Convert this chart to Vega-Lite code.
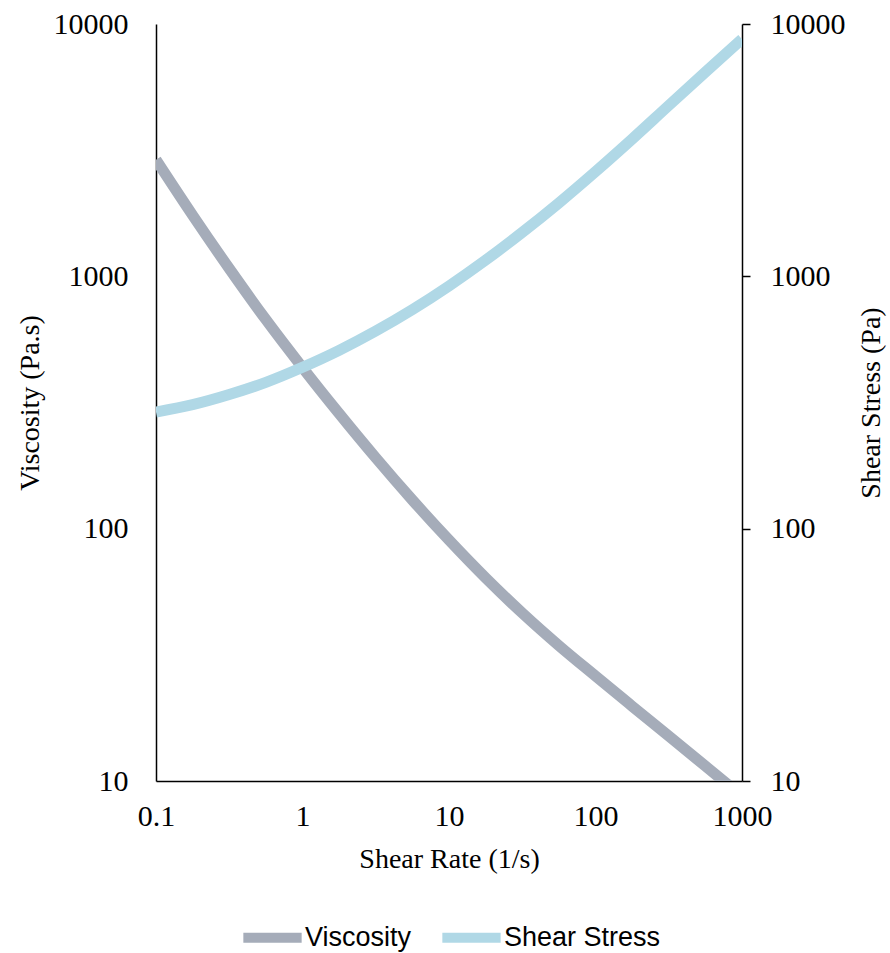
{
  "$schema": "https://vega.github.io/schema/vega-lite/v6.json",
  "width": 586,
  "height": 757,
  "autosize": {"type": "none"},
  "padding": {"left": 156, "top": 24, "right": 148, "bottom": 172},
  "background": "white",
  "config": {
    "view": {"stroke": null},
    "font": "Liberation Serif",
    "axis": {
      "grid": false,
      "domainColor": "#000000",
      "domainWidth": 1.5,
      "tickColor": "#000000",
      "tickWidth": 1.5,
      "labelFont": "Liberation Serif",
      "labelFontSize": 30,
      "labelColor": "#000000",
      "titleFont": "Liberation Serif",
      "titleFontSize": 28,
      "titleFontWeight": "normal",
      "titleColor": "#000000"
    }
  },
  "data": {
    "values": [
      {"rate": 0.1, "viscosity": 2897, "stress": 290},
      {"rate": 0.1778, "viscosity": 1746, "stress": 310},
      {"rate": 0.3162, "viscosity": 1074, "stress": 340},
      {"rate": 0.5623, "viscosity": 674, "stress": 380},
      {"rate": 1, "viscosity": 435, "stress": 436},
      {"rate": 1.778, "viscosity": 286, "stress": 509},
      {"rate": 3.162, "viscosity": 191, "stress": 607},
      {"rate": 5.623, "viscosity": 129.9, "stress": 738},
      {"rate": 10, "viscosity": 90.1, "stress": 916},
      {"rate": 17.78, "viscosity": 63.8, "stress": 1159},
      {"rate": 31.62, "viscosity": 46.3, "stress": 1493},
      {"rate": 56.23, "viscosity": 34.4, "stress": 1954},
      {"rate": 100, "viscosity": 26.05, "stress": 2600},
      {"rate": 177.8, "viscosity": 19.8, "stress": 3499},
      {"rate": 316.2, "viscosity": 15.07, "stress": 4753},
      {"rate": 562.3, "viscosity": 11.46, "stress": 6442},
      {"rate": 1000, "viscosity": 8.71, "stress": 8710}
    ]
  },
  "encoding": {
    "x": {
      "field": "rate",
      "type": "quantitative",
      "scale": {"type": "log", "domain": [0.1, 1000]},
      "axis": {
        "title": "Shear Rate (1/s)",
        "values": [0.1, 1, 10, 100, 1000],
        "format": "~r",
        "ticks": false,
        "tickSize": 0,
        "labelPadding": 20,
        "titlePadding": 14,
        "labelFlush": false
      }
    }
  },
  "layer": [
    {
      "mark": {"type": "line", "strokeWidth": 11, "clip": true, "interpolate": "monotone"},
      "encoding": {
        "y": {
          "field": "viscosity",
          "type": "quantitative",
          "scale": {"type": "log", "domain": [10, 10000]},
          "axis": {
            "title": "Viscosity (Pa.s)",
            "orient": "left",
            "values": [10, 100, 1000, 10000],
            "format": "~r",
            "ticks": false,
            "tickSize": 0,
            "labelPadding": 28,
            "titlePadding": 9,
            "labelFlush": false
          }
        },
        "color": {
          "datum": "Viscosity",
          "type": "nominal",
          "scale": {"domain": ["Viscosity", "Shear Stress"], "range": ["#a5acb9", "#b0d8e6"]},
          "legend": {
            "title": null,
            "orient": "none",
            "direction": "horizontal",
            "legendX": 82,
            "legendY": 879,
            "symbolType": "stroke",
            "symbolSize": 3400,
            "symbolStrokeWidth": 10,
            "labelFont": "Liberation Sans",
            "labelFontSize": 27,
            "labelColor": "#000000",
            "labelOffset": -2,
            "columnPadding": 10
          }
        }
      }
    },
    {
      "mark": {"type": "line", "strokeWidth": 11, "clip": true, "interpolate": "monotone"},
      "encoding": {
        "y": {
          "field": "stress",
          "type": "quantitative",
          "scale": {"type": "log", "domain": [10, 10000]},
          "axis": {
            "title": "Shear Stress (Pa)",
            "orient": "right",
            "values": [10, 100, 1000, 10000],
            "format": "~r",
            "tickSize": 8,
            "labelPadding": 20,
            "titlePadding": 12,
            "titleAngle": 270,
            "titleBaseline": "top",
            "labelFlush": false
          }
        },
        "color": {"datum": "Shear Stress", "type": "nominal"}
      }
    }
  ],
  "resolve": {"scale": {"y": "independent"}}
}
